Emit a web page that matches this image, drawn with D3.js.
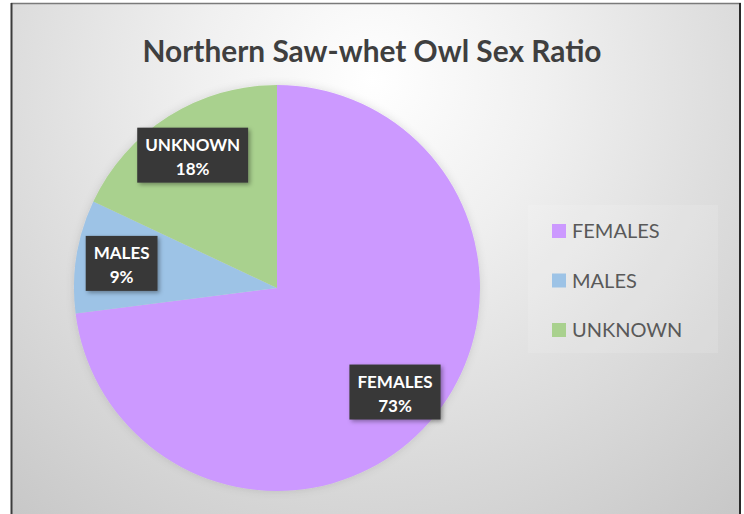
<!DOCTYPE html>
<html>
<head>
<meta charset="utf-8">
<script src="https://cdn.jsdelivr.net/npm/d3@7"></script>
<style>
  html, body { margin: 0; padding: 0; background: #ffffff; }
  svg { display: block; }
</style>
</head>
<body>
<svg id="chart" width="744" height="514"></svg>
<script>
// Sex ratio of banded Northern Saw-whet Owls (percent of birds)
const categories = ["FEMALES", "MALES", "UNKNOWN"];
const percents = [73, 9, 18];
const colors = ["#cc99ff", "#9dc3e6", "#a9d18e"];
const title = "Northern Saw-whet Owl Sex Ratio";

const W = 744, H = 514;
const svg = d3.select("#chart");
const defs = svg.append("defs");

// soft radial backdrop
const bg = defs.append("radialGradient").attr("id", "bg")
  .attr("gradientUnits", "userSpaceOnUse")
  .attr("cx", 372).attr("cy", 80).attr("r", 580);
bg.append("stop").attr("offset", "0").attr("stop-color", "#ffffff");
bg.append("stop").attr("offset", "0.3").attr("stop-color", "#f0f0f0");
bg.append("stop").attr("offset", "1").attr("stop-color", "#c6c6c6");

const shadow = defs.append("filter").attr("id", "shadow")
  .attr("x", "-20%").attr("y", "-20%").attr("width", "140%").attr("height", "140%");
shadow.append("feDropShadow").attr("dx", 2).attr("dy", 2)
  .attr("stdDeviation", 2).attr("flood-color", "#000").attr("flood-opacity", 0.35);

const glow = defs.append("filter").attr("id", "glow")
  .attr("x", "-10%").attr("y", "-10%").attr("width", "120%").attr("height", "120%");
glow.append("feDropShadow").attr("dx", 0).attr("dy", 0)
  .attr("stdDeviation", 4).attr("flood-color", "#000").attr("flood-opacity", 0.12);

// chart frame
const frame = { x0: 11, y0: 3, x1: 741, y1: H };
svg.append("rect")
  .attr("x", frame.x0).attr("y", frame.y0)
  .attr("width", frame.x1 - frame.x0).attr("height", frame.y1 - frame.y0)
  .attr("fill", "url(#bg)");
svg.append("line").attr("x1", frame.x0).attr("x2", frame.x1)
  .attr("y1", frame.y0 + 0.5).attr("y2", frame.y0 + 0.5)
  .attr("stroke", "#7a7a7a").attr("stroke-width", 1.5);
svg.append("line").attr("x1", frame.x0 + 0.5).attr("x2", frame.x0 + 0.5)
  .attr("y1", frame.y0).attr("y2", frame.y1)
  .attr("stroke", "#3c3c3c").attr("stroke-width", 2);
svg.append("line").attr("x1", frame.x1 - 1).attr("x2", frame.x1 - 1)
  .attr("y1", frame.y0).attr("y2", frame.y1)
  .attr("stroke", "#2a2a2a").attr("stroke-width", 2);

// title
const titleText = svg.append("text")
  .attr("x", 372).attr("y", 62)
  .attr("text-anchor", "middle")
  .attr("font-family", "Lato, 'Open Sans', sans-serif")
  .attr("font-weight", 700)
  .attr("font-size", 30)
  .attr("fill", "#3f3f3f")
  .text(title);
titleText.attr("textLength", 459).attr("lengthAdjust", "spacingAndGlyphs");

// pie
const cx = 277, cy = 288, R = 203;
const pie = d3.pie().sort(null).value(d => d);
const arcs = pie(percents);
const arc = d3.arc().innerRadius(0).outerRadius(R);
const g = svg.append("g").attr("transform", `translate(${cx},${cy})`);
g.append("g").attr("filter", "url(#glow)")
  .selectAll("path").data(arcs).join("path")
  .attr("d", arc)
  .attr("fill", (d, i) => colors[i]);

// data labels in dark callout boxes
const labelArc = d3.arc().innerRadius(R * 0.775).outerRadius(R * 0.775);
const lblFont = "Lato, 'Open Sans', sans-serif";
arcs.forEach((d, i) => {
  const [lx, ly] = labelArc.centroid(d);
  const lg = g.append("g").attr("transform", `translate(${lx},${ly})`);
  const box = lg.append("rect").attr("fill", "#383838").attr("filter", "url(#shadow)");
  const t1 = lg.append("text").attr("text-anchor", "middle").attr("y", -4)
    .attr("font-family", lblFont).attr("font-weight", 700).attr("font-size", 17)
    .attr("fill", "#ffffff").text(categories[i]);
  lg.append("text").attr("text-anchor", "middle").attr("y", 20)
    .attr("font-family", lblFont).attr("font-weight", 700).attr("font-size", 17)
    .attr("fill", "#ffffff").text(percents[i] + "%");
  const w = t1.node().getComputedTextLength();
  const bw = w + 16, bh = 55;
  box.attr("x", -bw / 2).attr("y", -bh / 2).attr("width", bw).attr("height", bh);
});

// legend
const legend = svg.append("g").attr("transform", "translate(528,205)");
legend.append("rect").attr("width", 190).attr("height", 148)
  .attr("fill", "#ffffff").attr("opacity", 0.12);
const rowY = d3.scalePoint().domain(categories).range([26, 125]);
const items = legend.selectAll("g.item").data(categories).join("g")
  .attr("class", "item")
  .attr("transform", d => `translate(0,${rowY(d)})`);
items.append("rect").attr("x", 24).attr("y", -7).attr("width", 14).attr("height", 14)
  .attr("fill", (d, i) => colors[i]);
items.append("text").attr("x", 44).attr("y", 7)
  .attr("font-family", "Lato, 'Open Sans', sans-serif")
  .attr("font-size", 20)
  .attr("fill", "#595959")
  .text(d => d);
</script>
</body>
</html>
